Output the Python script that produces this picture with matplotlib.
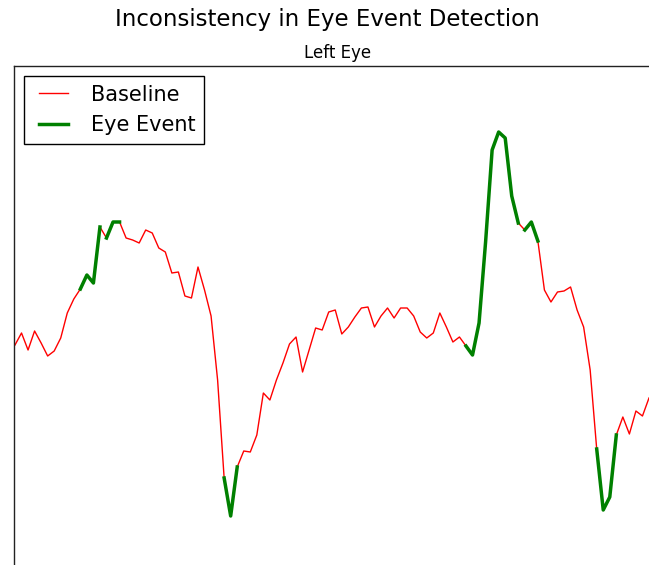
import numpy as np
import matplotlib
matplotlib.use("Agg")
import matplotlib.pyplot as plt

# left eye signal (arbitrary units), one sample per frame
left_eye = [1.85, 1.97, 1.80, 1.99, 1.87, 1.74, 1.79, 1.92, 2.17, 2.31,
            2.41, 2.55, 2.47, 3.03, 2.92, 3.08, 3.08, 2.92, 2.90, 2.87,
            3.00, 2.97, 2.82, 2.78, 2.57, 2.58, 2.34, 2.32, 2.63, 2.40,
            2.14, 1.50, 0.52, 0.14, 0.63, 0.79, 0.78, 0.95, 1.37, 1.30,
            1.50, 1.67, 1.86, 1.93, 1.58, 1.80, 2.02, 2.00, 2.18, 2.20,
            1.96, 2.03, 2.13, 2.22, 2.23, 2.03, 2.14, 2.22, 2.12, 2.22,
            2.22, 2.14, 1.98, 1.92, 1.97, 2.17, 2.03, 1.88, 1.93, 1.84,
            1.75, 2.07, 2.88, 3.80, 3.98, 3.92, 3.34, 3.07, 3.00, 3.08,
            2.89, 2.40, 2.28, 2.38, 2.39, 2.43, 2.20, 2.03, 1.60, 0.81,
            0.20, 0.33, 0.95, 1.13, 0.96, 1.19, 1.14, 1.32]

# detected eye events as (first, last) sample index
events = [(10, 13), (14, 16), (32, 34), (69, 77), (78, 80), (89, 92)]

frames = np.arange(len(left_eye))
signal = np.array(left_eye)

fig = plt.figure(figsize=(6.49, 5.65), dpi=100)
# axes runs past the right and bottom edge, like the cropped original
ax = fig.add_axes([14 / 649, 0, (662 - 14) / 649, (565 - 66) / 565])

ax.plot(frames, signal, color='#ff0000', lw=1.0, label='Baseline')
for k, (a, b) in enumerate(events):
    ax.plot(frames[a:b + 1], signal[a:b + 1], color='green', lw=2.5,
            label='Eye Event' if k == 0 else None)

ax.set_xlim(-0.15, 98.99)
ax.set_ylim(-0.35, 4.64)
ax.set_xticks([])
ax.set_yticks([])
for s in ['right', 'bottom']:
    ax.spines[s].set_visible(False)
for s in ['left', 'top']:
    ax.spines[s].set_color('#222222')
    ax.spines[s].set_linewidth(1.0)

ax.set_title('Left Eye', fontsize=12, pad=6)
fig.suptitle('Inconsistency in Eye Event Detection', fontsize=16.5, x=0.505, y=0.985)

leg = ax.legend(loc='upper left', fontsize=15, fancybox=False, framealpha=1,
                edgecolor='black', handlelength=2.0, numpoints=2)
leg.get_frame().set_linewidth(1.0)

fig.savefig('out.png', dpi=100)
